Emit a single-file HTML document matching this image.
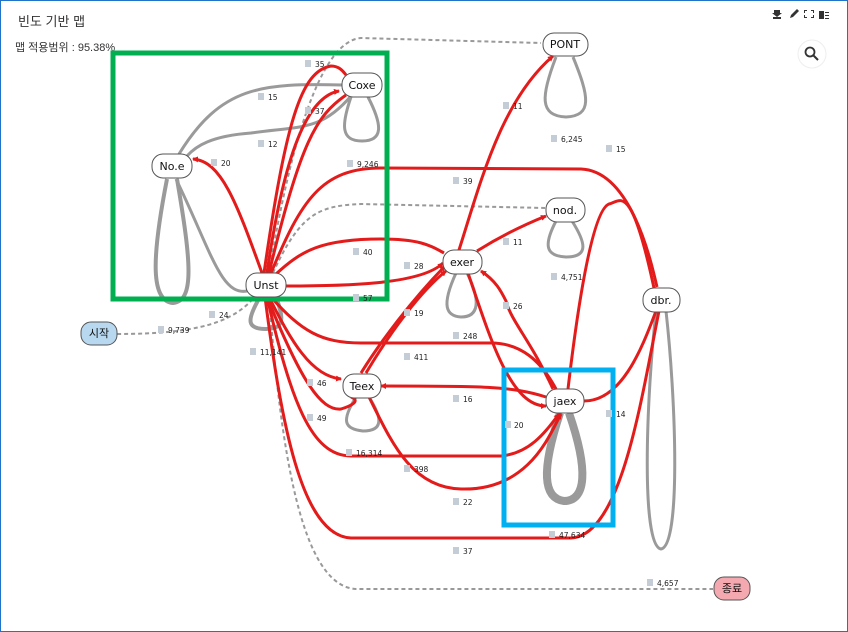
<!DOCTYPE html>
<html><head><meta charset="utf-8"><style>
html,body{margin:0;padding:0;background:#fff}
#w{position:relative;width:846px;height:630px;border:1px solid #1f74c9;overflow:hidden;font-family:"Liberation Sans","Noto Sans CJK KR",sans-serif}
.t{position:absolute;left:17px;top:10px;font-size:13px;color:#333}
.s{position:absolute;left:14px;top:38px;font-size:11px;color:#333}
svg{position:absolute;left:0;top:0}
</style></head><body><div id="w">
<div class="t">빈도 기반 맵</div>
<div class="s">맵 적용범위 : 95.38%</div>
<svg width="846" height="630" viewBox="0 0 846 630" font-family="DejaVu Sans, Noto Sans CJK KR, sans-serif">
<defs>
<marker id="a" markerWidth="6" markerHeight="6" refX="5" refY="3" orient="auto" markerUnits="userSpaceOnUse"><path d="M0,0 L6,3 L0,6z" fill="#e31b1b"/></marker>
</defs>
<g fill="none" stroke="#999" stroke-width="2" stroke-dasharray="4,3">
<path d="M116,333 C200,333 230,320 250,300"/>
<path d="M268,272 C290,140 320,40 360,37 L540,42"/>
<path d="M272,272 C300,210 320,205 360,203 L545,207"/>
<path d="M268,296 C280,450 300,585 355,588 L712,588"/>
</g>
<g fill="none" stroke="#9a9a9a" stroke-width="3">
<path d="M342,84 C260,82 220,85 178,153"/>
<path d="M350,95 C320,130 300,125 250,132 C210,135 195,145 186,155"/>
<path d="M175,178 C210,250 220,295 246,290"/>
<path d="M166,178 C150,260 150,300 172,302 C194,300 190,260 176,178" stroke-width="4"/>
<path d="M350,96 C340,125 340,140 361,140 C382,140 382,125 367,96"/>
<path d="M259,296 C245,320 246,328 265,328 C285,328 282,315 275,296" stroke-width="4"/>
<path d="M555,56 C540,95 538,115 565,116 C592,115 588,95 572,56"/>
<path d="M555,220 C542,245 545,255 565,256 C588,256 585,242 571,220"/>
<path d="M455,272 C440,305 445,315 460,316 C478,316 480,300 466,272"/>
<path d="M355,396 C340,420 343,428 362,430 C382,430 382,418 368,396"/>
<path d="M559,412 C540,470 542,497 563,500 C585,500 588,470 568,412" stroke-width="8"/>
<path d="M655,310 C645,400 640,545 660,548 C680,545 675,400 665,310"/>
</g>
<g fill="none" stroke="#e31b1b" stroke-width="3">
<path d="M263,272 C285,120 300,70 330,65 C338,65 342,70 345,74"/>
<path d="M266,272 C285,140 310,95 338,90" marker-end="url(#a)"/>
<path d="M268,272 C300,140 315,115 345,94"/>
<path d="M261,272 C235,200 220,160 192,158" marker-end="url(#a)"/>
<path d="M270,272 C300,200 320,167 380,167 L580,168 C630,170 650,260 656,286"/>
<path d="M275,273 C300,250 320,238 380,238 C420,238 430,245 443,252"/>
<path d="M285,285 C340,285 420,284 442,262" marker-end="url(#a)"/>
<path d="M458,249 C480,180 500,100 552,55" marker-end="url(#a)" />
<path d="M476,250 C500,235 520,225 545,215" marker-end="url(#a)"/>
<path d="M653,287 C630,180 620,200 608,203 C590,210 575,320 567,388"/>
<path d="M365,372 C390,330 420,290 445,270" marker-end="url(#a)"/>
<path d="M360,372 C380,340 410,300 444,265" marker-end="url(#a)"/>
<path d="M552,388 C530,340 510,320 505,300 C500,290 495,280 480,270" marker-end="url(#a)"/>
<path d="M467,272 C490,340 510,405 545,405" marker-end="url(#a)"/>
<path d="M270,296 C300,330 320,342 360,342 L490,342 C520,342 540,360 555,388"/>
<path d="M268,296 C290,340 310,375 340,378" marker-end="url(#a)"/>
<path d="M266,296 C290,400 310,455 350,455 L500,455 C530,452 545,430 558,413" marker-end="url(#a)"/>
<path d="M264,296 C280,420 300,535 350,537 L570,537 C620,535 640,400 658,310"/>
<path d="M545,396 C510,385 480,385 380,385" marker-end="url(#a)"/>
<path d="M368,396 C390,440 410,487 460,488 C530,490 550,430 560,413" marker-end="url(#a)"/>
<path d="M583,400 C620,400 640,350 655,310"/>
<path d="M266,296 C300,380 320,410 340,408 C350,405 360,400 350,396"/>
</g>
<rect x="112" y="52" width="274" height="246" fill="none" stroke="#00b050" stroke-width="5"/>
<rect x="503" y="369" width="109" height="155" fill="none" stroke="#00b0f0" stroke-width="5"/>
<g font-size="7.5" fill="#222">
<g fill="#c4ccd6"><rect x="304" y="59" width="6" height="7"/><rect x="257" y="92" width="6" height="7"/><rect x="304" y="106" width="6" height="7"/><rect x="257" y="139" width="6" height="7"/><rect x="210" y="158" width="6" height="7"/><rect x="346" y="159" width="6" height="7"/><rect x="452" y="176" width="6" height="7"/><rect x="502" y="101" width="6" height="7"/><rect x="550" y="134" width="6" height="7"/><rect x="605" y="144" width="6" height="7"/><rect x="502" y="237" width="6" height="7"/><rect x="550" y="272" width="6" height="7"/><rect x="352" y="247" width="6" height="7"/><rect x="403" y="261" width="6" height="7"/><rect x="352" y="293" width="6" height="7"/><rect x="208" y="310" width="6" height="7"/><rect x="157" y="325" width="6" height="7"/><rect x="403" y="308" width="6" height="7"/><rect x="502" y="301" width="6" height="7"/><rect x="452" y="331" width="6" height="7"/><rect x="249" y="347" width="6" height="7"/><rect x="403" y="352" width="6" height="7"/><rect x="306" y="378" width="6" height="7"/><rect x="452" y="394" width="6" height="7"/><rect x="306" y="413" width="6" height="7"/><rect x="504" y="420" width="6" height="7"/><rect x="605" y="409" width="6" height="7"/><rect x="345" y="448" width="6" height="7"/><rect x="403" y="464" width="6" height="7"/><rect x="452" y="497" width="6" height="7"/><rect x="548" y="530" width="6" height="7"/><rect x="452" y="546" width="6" height="7"/><rect x="646" y="578" width="6" height="7"/></g>
<text x="314" y="66">35</text><text x="267" y="99">15</text><text x="314" y="113">37</text><text x="267" y="146">12</text><text x="220" y="165">20</text><text x="356" y="166">9,246</text><text x="462" y="183">39</text><text x="512" y="108">11</text><text x="560" y="141">6,245</text><text x="615" y="151">15</text><text x="512" y="244">11</text><text x="560" y="279">4,751</text><text x="362" y="254">40</text><text x="413" y="268">28</text><text x="362" y="300">57</text><text x="218" y="317">24</text><text x="167" y="332">9,739</text><text x="413" y="315">19</text><text x="512" y="308">26</text><text x="462" y="338">248</text><text x="259" y="354">11,141</text><text x="413" y="359">411</text><text x="316" y="385">46</text><text x="462" y="401">16</text><text x="316" y="420">49</text><text x="513" y="427">20</text><text x="615" y="416">14</text><text x="355" y="455">16,314</text><text x="413" y="471">398</text><text x="462" y="504">22</text><text x="558" y="537">47,634</text><text x="462" y="553">37</text><text x="656" y="585">4,657</text>
</g>
<g stroke="#555" stroke-width="1" font-size="11" text-anchor="middle" fill="#111">
<rect x="80" y="321" width="36" height="23" rx="10" fill="#b8d8f0"/><text x="98" y="336" stroke="none">시작</text>
<rect x="151" y="153" width="40" height="24" rx="11" fill="#fff"/><text x="171" y="169" stroke="none">No.e</text>
<rect x="341" y="72" width="40" height="24" rx="11" fill="#fff"/><text x="361" y="88" stroke="none">Coxe</text>
<rect x="245" y="272" width="40" height="24" rx="11" fill="#fff"/><text x="265" y="288" stroke="none">Unst</text>
<rect x="542" y="32" width="45" height="23" rx="11" fill="#fff"/><text x="564" y="47" stroke="none">PONT</text>
<rect x="545" y="197" width="39" height="24" rx="11" fill="#fff"/><text x="564" y="213" stroke="none">nod.</text>
<rect x="442" y="249" width="39" height="24" rx="11" fill="#fff"/><text x="461" y="265" stroke="none">exer</text>
<rect x="642" y="287" width="37" height="24" rx="11" fill="#fff"/><text x="660" y="303" stroke="none">dbr.</text>
<rect x="342" y="373" width="38" height="24" rx="11" fill="#fff"/><text x="361" y="389" stroke="none">Teex</text>
<rect x="545" y="388" width="38" height="24" rx="11" fill="#fff"/><text x="564" y="404" stroke="none">jaex</text>
<rect x="713" y="576" width="36" height="23" rx="10" fill="#f4a8b0"/><text x="731" y="591" stroke="none">종료</text>
</g>
<g fill="#333"><rect x="772" y="16" width="8" height="2"/><path d="M773,9 h6 v3 h2 l-5,4 l-5,-4 h2z"/>
<path d="M789,17 l1,-3 l6,-6 l2,2 l-6,6z"/>
<path d="M803,9h3v1h-2v2h-1zM810,9h3v3h-1v-2h-2zM803,14h1v2h2v1h-3zM812,14h1v3h-3v-1h2z"/>
<rect x="818" y="10" width="5" height="8"/><rect x="824" y="11" width="4" height="1"/><rect x="824" y="14" width="4" height="1"/><rect x="824" y="17" width="4" height="1"/></g>
<circle cx="811" cy="53" r="14" fill="#fff" stroke="#eee"/>
<circle cx="809" cy="51" r="4.5" fill="none" stroke="#333" stroke-width="1.8"/><path d="M812,54 l5,5" stroke="#333" stroke-width="2"/>
</svg>
</div></body></html>
